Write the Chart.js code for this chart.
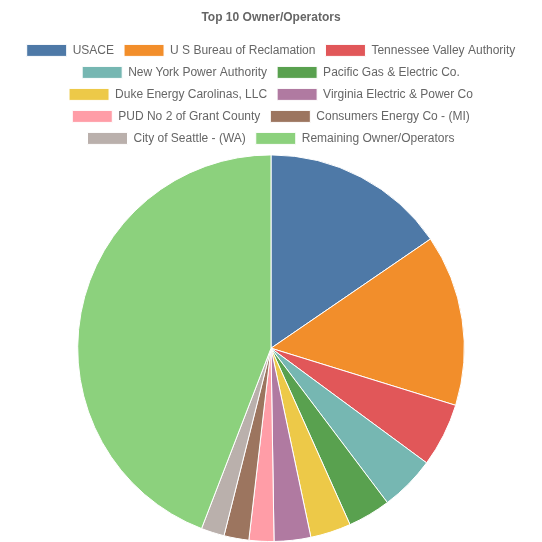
<!DOCTYPE html>
<html>
<head>
<meta charset="utf-8">
<script src="https://cdn.jsdelivr.net/npm/chart.js@4/dist/chart.umd.min.js"></script>
<style>
  html, body { margin: 0; padding: 0; background: #fff; }
  #wrap { width: 542px; height: 542px; }
</style>
</head>
<body>
<div id="wrap"><canvas id="pieChart"></canvas></div>
<script>
// share of capacity (%)
const owners = [
    'USACE',
    'U S Bureau of Reclamation',
    'Tennessee Valley Authority',
    'New York Power Authority',
    'Pacific Gas & Electric Co.',
    'Duke Energy Carolinas, LLC',
    'Virginia Electric & Power Co',
    'PUD No 2 of Grant County',
    'Consumers Energy Co - (MI)',
    'City of Seattle - (WA)',
    'Remaining Owner/Operators'
];
const shares = [15.44, 14.33, 5.33, 4.61, 3.58, 3.39, 3.06, 2.08, 2.08, 1.94, 44.14];
const sliceColors = [
    '#4e79a7', '#f28e2b', '#e15759', '#76b7b2', '#59a14f',
    '#edc948', '#b07aa1', '#ff9da7', '#9c755f', '#bab0ac', '#8cd17d'
];

const ctx = document.getElementById('pieChart').getContext('2d');
new Chart(ctx, {
    type: 'pie',
    data: {
        labels: owners,
        datasets: [{
            data: shares,
            backgroundColor: sliceColors,
            borderColor: '#fff',
            borderWidth: 1
        }]
    },
    options: {
        responsive: true,
        maintainAspectRatio: false,
        animation: false,
        plugins: {
            title: {
                display: true,
                text: 'Top 10 Owner/Operators',
                color: '#666',
                font: { size: 12, weight: 'bold' }
            },
            legend: {
                position: 'top',
                labels: { color: '#666', boxWidth: 40, font: { size: 12 } }
            }
        }
    }
});
</script>
</body>
</html>
